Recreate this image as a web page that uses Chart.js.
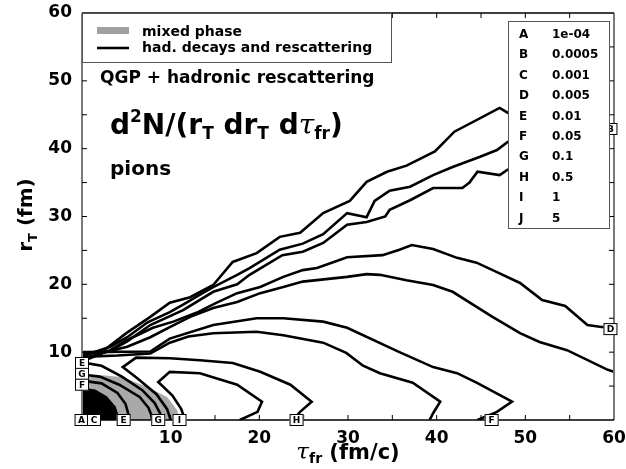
<!DOCTYPE html>
<html>
<head>
<meta charset="utf-8">
<script src="https://cdn.jsdelivr.net/npm/chart.js@4.4.1/dist/chart.umd.min.js"></script>
<style>
  html, body { margin: 0; padding: 0; background: #fff; }
</style>
</head>
<body>
<canvas id="chart" width="626" height="469"></canvas>
<script>
// contour lines of d2N/(rT drT dtau) for pions
// tau_fr in fm/c, r_T in fm
const tau1 = [0, 2.4, 5.0, 7.7, 9.9, 12.2, 14.8, 17.0, 19.7, 22.3, 24.6, 27.2, 30.2, 32.1, 34.4, 36.6, 39.8, 42.0, 47.1, 48.0, 54.0, 60.0];
const r1   = [9.6, 10.2, 12.8, 15.2, 17.3, 18.1, 19.9, 23.3, 24.6, 27.0, 27.6, 30.5, 32.3, 35.1, 36.6, 37.5, 39.6, 42.5, 46.0, 45.3, 44.2, 42.9];

const tau2 = [0, 3.2, 5.1, 7.4, 9.9, 11.4, 13.6, 14.8, 17.5, 18.9, 22.3, 24.9, 27.2, 29.9, 32.1, 33.0, 34.7, 37.0, 39.6, 41.8, 44.9, 46.8, 48.0, 54.0, 58.0];
const r2   = [9.4, 10.8, 12.2, 14.4, 15.9, 17.0, 18.7, 19.6, 21.4, 22.4, 25.1, 26.0, 27.4, 30.5, 29.9, 32.3, 33.8, 34.4, 36.1, 37.3, 38.8, 39.8, 41.0, 42.0, 42.7];

const tau3 = [0, 3.2, 5.1, 7.7, 11.4, 14.8, 17.5, 18.9, 22.6, 24.9, 27.2, 29.9, 32.1, 34.2, 34.7, 37.0, 39.6, 42.9, 43.7, 44.6, 47.1, 48.0, 54.0, 58.0];
const r3   = [9.1, 10.2, 11.6, 14.0, 16.2, 18.9, 20.0, 21.4, 24.3, 24.8, 26.1, 28.8, 29.2, 30.0, 31.0, 32.4, 34.2, 34.2, 35.0, 36.6, 36.1, 36.9, 38.0, 38.6];

const tau4 = [0, 3.2, 5.1, 8.0, 10.3, 12.9, 15.2, 17.5, 20.1, 22.7, 24.9, 26.5, 29.9, 33.9, 35.8, 37.2, 39.6, 42.3, 44.5, 46.8, 49.4, 51.9, 54.5, 57.0, 58.6, 60.0];
const r4   = [8.8, 10.3, 11.8, 13.6, 14.5, 15.8, 17.3, 18.7, 19.6, 21.1, 22.1, 22.4, 24.0, 24.3, 25.1, 25.8, 25.2, 23.9, 23.2, 21.8, 20.2, 17.7, 16.8, 14.0, 13.7, 13.7];

const tau5 = [0, 2.4, 5.1, 7.7, 9.9, 12.2, 14.8, 17.5, 20.1, 22.7, 24.9, 29.9, 32.1, 33.6, 36.6, 39.6, 41.8, 44.1, 46.3, 49.4, 51.6, 54.7, 59.3, 60.0];
const r5   = [8.6, 9.9, 10.8, 12.2, 13.7, 15.2, 16.5, 17.4, 18.7, 19.6, 20.4, 21.1, 21.5, 21.4, 20.6, 19.9, 18.9, 17.0, 15.2, 12.8, 11.5, 10.3, 7.4, 7.1];

const tau6 = [0, 7.7, 9.9, 14.8, 19.7, 22.7, 27.2, 29.9, 35.8, 39.6, 42.3, 44.5, 48.5, 46.8, 44.6];
const r6   = [10.0, 10.1, 12.0, 14.0, 15.0, 15.0, 14.5, 13.6, 10.0, 7.8, 6.9, 5.5, 2.7, 1.2, 0];

const tau7 = [0, 4.0, 7.7, 9.9, 12.0, 14.8, 19.7, 22.7, 27.2, 29.8, 31.7, 33.6, 37.3, 40.4, 39.6, 39.2];
const r7   = [9.3, 9.5, 9.8, 11.4, 12.3, 12.8, 13.0, 12.5, 11.4, 9.9, 8.0, 6.9, 5.5, 2.7, 1.0, 0];

const tau8 = [23.8, 24.6, 25.9, 23.5, 20.1, 17.0, 13.3, 9.9, 6.1, 4.6, 6.2, 8.4, 9.6, 10.0];
const r8   = [0, 1.2, 2.7, 5.2, 7.1, 8.4, 8.8, 9.1, 9.2, 7.8, 6.2, 3.8, 1.6, 0];

const tau9 = [17.8, 19.8, 20.3, 17.5, 13.3, 9.9, 8.6, 10.2, 11.2, 11.6];
const r9   = [0, 1.2, 2.7, 5.2, 6.9, 7.1, 5.6, 3.6, 1.6, 0];

const tau10 = [0, 2.2, 4.5, 6.8, 8.2, 8.8, 9.0];
const r10   = [8.5, 8.0, 6.4, 4.4, 2.5, 1.0, 0];

const tau11 = [0, 2.0, 4.2, 6.5, 7.5, 7.8, 7.9];
const r11   = [6.7, 6.4, 5.2, 3.4, 1.8, 0.8, 0];

const tau12 = [0, 2.2, 4.0, 4.9, 5.2, 5.2];
const r12   = [5.8, 5.4, 4.0, 2.4, 1.0, 0];

// mixed phase (grey) and QGP core (black)
const mixedTau = [0, 2.4, 4.6, 7.3, 9.6, 10.7, 11.0, 11.0];
const mixedR   = [6.2, 6.6, 6.3, 4.9, 3.4, 1.5, 0.3, 0];
const qgpTau = [0, 1.5, 2.8, 3.8, 4.1, 4.1];
const qgpR   = [4.8, 4.5, 3.5, 2.0, 0.8, 0];

// contour level key
const levelLetters = ['A', 'B', 'C', 'D', 'E', 'F', 'G', 'H', 'I', 'J'];
const levelValues = ['1e-04', '0.0005', '0.001', '0.005', '0.01', '0.05', '0.1', '0.5', '1', '5'];

// small boxed letters on the contours
const tagText = ['E', 'G', 'F', 'A', 'C', 'E', 'G', 'I', 'H', 'F', 'B', 'D'];
const tagTau  = [0, 0, 0, -0.05, 1.35, 4.7, 8.6, 11.0, 24.2, 46.2, 59.6, 59.6];
const tagR    = [8.4, 6.8, 5.2, 0, 0, 0, 0, 0, 0, 0, 42.9, 13.4];

const contours = [
  [tau1, r1], [tau2, r2], [tau3, r3], [tau4, r4], [tau5, r5], [tau6, r6],
  [tau7, r7], [tau8, r8], [tau9, r9], [tau10, r10], [tau11, r11], [tau12, r12]
];

const pts = (t, r) => t.map((v, i) => ({ x: v, y: r[i] }));
const B = size => 'bold ' + size + 'px "DejaVu Sans"';

// lower order is drawn on top
const datasets = [
  { data: pts(mixedTau, mixedR), fill: 'origin', backgroundColor: '#a9a9a9', borderWidth: 0, pointRadius: 0, order: 3 },
  { data: pts(qgpTau, qgpR), fill: 'origin', backgroundColor: '#000', borderWidth: 0, pointRadius: 0, order: 2 }
];
contours.forEach(([t, r]) => {
  datasets.push({ data: pts(t, r), borderColor: '#000', borderWidth: 2.6, pointRadius: 0, fill: false, tension: 0, order: 1 });
});

// text with sub/superscripts: parts = [text, font, dy]
function drawParts(ctx, x, y, parts, align) {
  let w = 0;
  parts.forEach(p => { ctx.font = p[1]; w += ctx.measureText(p[0]).width; });
  let cx = align === 'center' ? x - w / 2 : x;
  ctx.textAlign = 'left';
  ctx.textBaseline = 'alphabetic';
  parts.forEach(p => {
    ctx.font = p[1];
    ctx.fillText(p[0], cx, y + p[2]);
    cx += ctx.measureText(p[0]).width;
  });
}

const overlay = {
  id: 'overlay',
  afterDatasetsDraw(chart) {
    const { ctx, chartArea: a, scales: { x, y } } = chart;
    ctx.save();

    // frame
    ctx.lineWidth = 2;
    ctx.strokeStyle = '#7a7a7a';
    ctx.beginPath();
    ctx.moveTo(a.left, a.top); ctx.lineTo(a.left, a.bottom);
    ctx.moveTo(a.right, a.top); ctx.lineTo(a.right, a.bottom);
    ctx.stroke();
    ctx.lineWidth = 1.5;
    ctx.strokeStyle = '#000';
    ctx.beginPath();
    ctx.moveTo(a.left, a.top); ctx.lineTo(a.right, a.top);
    ctx.moveTo(a.left, a.bottom); ctx.lineTo(a.right, a.bottom);
    ctx.stroke();

    // inward ticks
    ctx.lineWidth = 1;
    ctx.beginPath();
    for (let v = 5; v < 60; v += 5) {
      const px = x.getPixelForValue(v), py = y.getPixelForValue(v);
      ctx.moveTo(px, a.bottom); ctx.lineTo(px, a.bottom - 5);
      ctx.moveTo(px, a.top); ctx.lineTo(px, a.top + 5);
      ctx.moveTo(a.left, py); ctx.lineTo(a.left + 5, py);
      ctx.moveTo(a.right, py); ctx.lineTo(a.right - 5, py);
    }
    ctx.stroke();

    // boxed contour letters
    tagText.forEach((t, i) => {
      const cx = x.getPixelForValue(tagTau[i]), cy = y.getPixelForValue(tagR[i]);
      ctx.fillStyle = '#fff';
      ctx.fillRect(cx - 7, cy - 6, 14, 12);
      ctx.strokeStyle = '#000';
      ctx.lineWidth = 1;
      ctx.strokeRect(cx - 7 + 0.5, cy - 6 + 0.5, 13, 11);
      ctx.fillStyle = '#000';
      ctx.font = B(9);
      ctx.textAlign = 'center';
      ctx.textBaseline = 'middle';
      ctx.fillText(t, cx, cy + 0.5);
    });

    // top-left legend
    ctx.fillStyle = '#fff';
    ctx.fillRect(a.left + 1, a.top + 1, 391 - a.left - 1, 62 - a.top - 1);
    ctx.strokeStyle = '#555';
    ctx.lineWidth = 1;
    ctx.strokeRect(a.left + 0.5, a.top + 0.5, 391 - a.left, 62 - a.top);
    ctx.fillStyle = '#a0a0a0';
    ctx.fillRect(97, 27, 32, 7);
    ctx.strokeStyle = '#000';
    ctx.lineWidth = 2.6;
    ctx.beginPath(); ctx.moveTo(97, 48); ctx.lineTo(129, 48); ctx.stroke();
    ctx.fillStyle = '#000';
    drawParts(ctx, 142, 36, [['mixed phase', B(14), 0]]);
    drawParts(ctx, 142, 52, [['had. decays and rescattering', B(14), 0]]);

    // in-plot titles
    drawParts(ctx, 100, 83, [['QGP + hadronic rescattering', B(17), 0]]);
    drawParts(ctx, 110, 134, [
      ['d', B(28), 0], ['2', B(17), -12], ['N/(r', B(28), 0], ['T', B(17), 5],
      [' dr', B(28), 0], ['T', B(17), 5], [' d', B(28), 0],
      ['\u03c4', 'italic 28px "DejaVu Serif"', 0], ['fr', B(17), 5], [')', B(28), 0]
    ]);
    drawParts(ctx, 110, 175, [['pions', B(20), 0]]);

    // contour level key
    ctx.fillStyle = '#fff';
    ctx.fillRect(508, 21, 101, 207);
    ctx.strokeStyle = '#555';
    ctx.lineWidth = 1;
    ctx.strokeRect(508.5, 21.5, 101, 207);
    ctx.fillStyle = '#000';
    levelLetters.forEach((l, i) => {
      const by = 38 + i * 20.4;
      drawParts(ctx, 519, by, [[l, B(12), 0]]);
      drawParts(ctx, 552, by, [[levelValues[i], B(12), 0]]);
    });

    // axis titles
    drawParts(ctx, 348, 459, [
      ['\u03c4', 'italic 23px "DejaVu Serif"', 0], ['fr', B(14), 4], [' (fm/c)', B(21), 0]
    ], 'center');
    ctx.save();
    ctx.translate(32, 215);
    ctx.rotate(-Math.PI / 2);
    drawParts(ctx, 0, 0, [['r', B(20), 0], ['T', B(13), 5], [' (fm)', B(20), 0]], 'center');
    ctx.restore();

    ctx.restore();
  }
};

const tickFont = { family: 'DejaVu Sans', weight: 'bold', size: 17 };
const tickLabel = v => (v % 10 === 0 && v > 0) ? String(v) : '';

new Chart(document.getElementById('chart').getContext('2d'), {
  type: 'line',
  data: { datasets: datasets },
  options: {
    responsive: false,
    animation: false,
    layout: { padding: { top: 13, right: 12, left: 0, bottom: 0 } },
    plugins: { legend: { display: false }, tooltip: { enabled: false } },
    scales: {
      x: {
        type: 'linear', min: 0, max: 60,
        afterFit: s => { s.height = 49; s.paddingLeft = 0; s.paddingRight = 0; },
        grid: { display: false, drawTicks: false },
        border: { display: false },
        ticks: { stepSize: 5, autoSkip: false, maxRotation: 0, padding: 8, color: '#000', font: tickFont, callback: tickLabel }
      },
      y: {
        type: 'linear', min: 0, max: 60,
        afterFit: s => { s.width = 82; s.paddingTop = 0; s.paddingBottom = 0; },
        grid: { display: false, drawTicks: false },
        border: { display: false },
        ticks: { stepSize: 5, autoSkip: false, padding: 10, color: '#000', font: tickFont, callback: tickLabel }
      }
    }
  },
  plugins: [overlay]
});
</script>
</body>
</html>
